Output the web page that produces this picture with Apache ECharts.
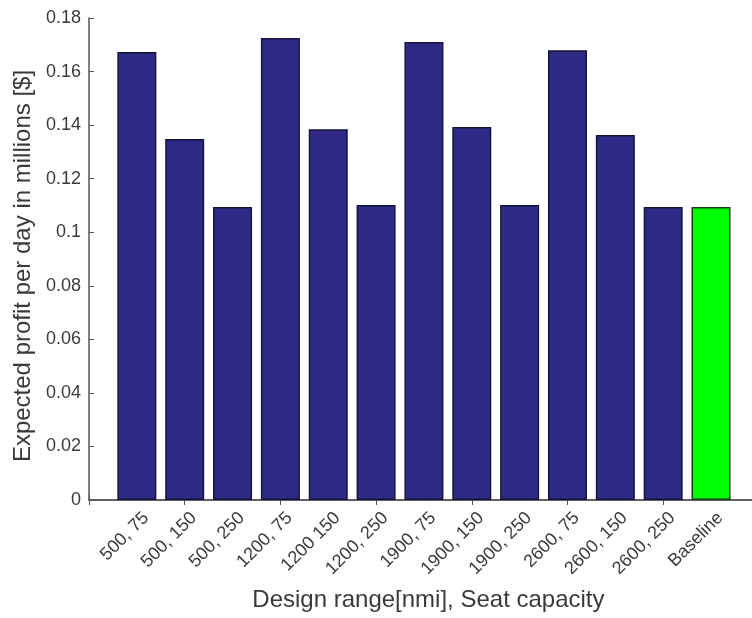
<!DOCTYPE html>
<html>
<head>
<meta charset="utf-8">
<script src="https://cdn.jsdelivr.net/npm/echarts@6/dist/echarts.min.js"></script>
<style>html,body{margin:0;padding:0;background:#fff;overflow:hidden}#c{width:761px;height:618px}</style>
</head>
<body>
<div id="c"></div>
<script>
var categories = ['500, 75','500, 150','500, 250','1200, 75','1200 150','1200, 250','1900, 75','1900, 150','1900, 250','2600, 75','2600, 150','2600, 250','Baseline'];
var profits = [0.1673, 0.1348, 0.1094, 0.1725, 0.1385, 0.1102, 0.1710, 0.1393, 0.1102, 0.1680, 0.1363, 0.1094, 0.1094];
var yTicks = [0, 0.02, 0.04, 0.06, 0.08, 0.1, 0.12, 0.14, 0.16, 0.18];

var axisCats = [''].concat(categories).concat(['']);
var barData = ['-'].concat(profits.map(function(v, i){
  var isBase = categories[i] === 'Baseline';
  return {value: v, itemStyle: {color: isBase ? '#00ff00' : '#2f2a86', borderColor: isBase ? '#1a3a1a' : '#15153a'}};
})).concat(['-']);

var font = '"Liberation Sans", Arial, sans-serif';
var chart = echarts.init(document.getElementById('c'), null, {renderer: 'canvas'});
chart.setOption({
  animation: false,
  grid: {left: 89, right: 0, top: 18, bottom: 118, containLabel: false},
  xAxis: [{
    type: 'category', data: axisCats, boundaryGap: false, position: 'bottom',
    axisLine: {lineStyle: {color: '#555', width: 1.5}},
    axisTick: {inside: true, length: 5, lineStyle: {color: '#555'}},
    axisLabel: {rotate: 45, fontFamily: font, fontSize: 18, color: '#3a3a3a', margin: 6, interval: 0,
      verticalAlign: 'top', lineHeight: 26},
    name: 'Design range[nmi], Seat capacity', nameLocation: 'middle', nameGap: 87,
    nameTextStyle: {fontFamily: font, fontSize: 24, color: '#3a3a3a', padding: [0, 0, 0, 9]},
    splitLine: {show: false}
  }, {
    type: 'category', data: axisCats, boundaryGap: false, position: 'top',
    axisLine: {lineStyle: {color: '#555', width: 1.5}},
    axisTick: {inside: true, length: 5, lineStyle: {color: '#555'}},
    axisLabel: {show: false}
  }],
  yAxis: [{
    type: 'value', min: 0, max: 0.18, interval: 0.02,
    axisLine: {show: true, lineStyle: {color: '#555', width: 1.5}},
    axisTick: {show: true, inside: true, length: 5, lineStyle: {color: '#555'}},
    axisLabel: {fontFamily: font, fontSize: 18, color: '#3a3a3a', margin: 8,
      formatter: function(v){ var t = yTicks.filter(function(x){return Math.abs(x - v) < 1e-9;}); return t.length ? String(+t[0].toFixed(2)) : ''; }},
    splitLine: {show: false},
    name: 'Expected profit per day in millions [$]', nameLocation: 'middle', nameGap: 54,
    nameTextStyle: {fontFamily: font, fontSize: 24, color: '#3a3a3a', padding: [0, 14, 0, 0]}
  }, {
    type: 'value', min: 0, max: 0.18, interval: 0.02, position: 'right',
    axisLine: {show: true, lineStyle: {color: '#555', width: 1.5}},
    axisTick: {show: true, inside: true, length: 5, lineStyle: {color: '#bbb'}},
    axisLabel: {show: false}, splitLine: {show: false}
  }],
  series: [{
    type: 'bar', data: barData, barWidth: 39,
    itemStyle: {borderWidth: 1.5}
  }]
});
</script>
</body>
</html>
